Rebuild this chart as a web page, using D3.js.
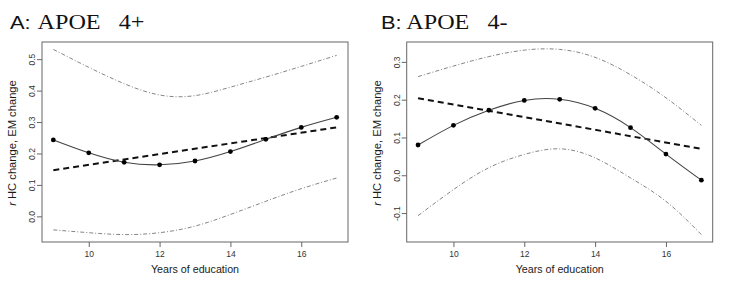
<!DOCTYPE html>
<html>
<head>
<meta charset="utf-8">
<script src="https://cdn.jsdelivr.net/npm/d3@7"></script>
<style>
  body { margin: 0; background: #fff; }
  svg { display: block; font-family: "Liberation Sans", Arial, sans-serif; }
</style>
</head>
<body>
<svg id="chart" width="735" height="296"></svg>
<script>
// Years of education (x values of the fitted points)
const years = [9, 10, 11, 12, 13, 14, 15, 16, 17];
const trendYears = [9, 17];

// Panel A: APOE e4+
const aFit = [0.243, 0.202, 0.172, 0.164, 0.176, 0.206, 0.245, 0.283, 0.315];
const aTrend = [0.147, 0.283];
const aUpper = [0.531, 0.474, 0.422, 0.386, 0.384, 0.411, 0.443, 0.477, 0.512];
const aLower = [-0.043, -0.052, -0.058, -0.052, -0.031, 0.006, 0.048, 0.088, 0.122];
const aYTicks = [0.0, 0.1, 0.2, 0.3, 0.4, 0.5];

// Panel B: APOE e4-
const bFit = [0.080, 0.132, 0.172, 0.198, 0.201, 0.177, 0.126, 0.056, -0.013];
const bTrend = [0.204, 0.070];
const bUpper = [0.261, 0.289, 0.314, 0.331, 0.333, 0.312, 0.266, 0.205, 0.132];
const bLower = [-0.107, -0.038, 0.020, 0.055, 0.070, 0.046, -0.007, -0.069, -0.157];
const bYTicks = [-0.1, 0.0, 0.1, 0.2, 0.3];

const xTicks = [10, 12, 14, 16];

const svg = d3.select('#chart');

// R style 4% padding around the data range
function padded(lo, hi) {
    const p = (hi - lo) * 0.04;
    return [lo - p, hi + p];
}

function drawPanel(p) {
    const top = 42, bottom = 242;
    const x = d3.scaleLinear().domain(padded(9, 17)).range([p.left, p.right]);
    const allY = p.fit.concat(p.upper, p.lower, p.trend);
    const y = d3.scaleLinear().domain(padded(d3.min(allY), d3.max(allY))).range([bottom, top]);

    const g = svg.append('g');

    // title: letter in sans, rest in serif
    const t = g.append('g')
        .attr('transform', `translate(${p.titleX},29) scale(1.15,1)`);
    t.append('text')
        .attr('x', 0).attr('y', 0)
        .attr('font-size', 19).attr('fill', '#111')
        .text(p.letter + ':');
    t.append('text')
        .attr('x', p.serifX).attr('y', 0)
        .style('font-family', '"Liberation Serif", "Times New Roman", serif')
        .attr('font-size', 21).attr('fill', '#111')
        .attr('xml:space', 'preserve')
        .text('APOE   ' + p.suffix);

    // box
    g.append('rect')
        .attr('x', p.left).attr('y', top)
        .attr('width', p.right - p.left).attr('height', bottom - top)
        .attr('fill', 'none').attr('stroke', '#666').attr('stroke-width', 1);

    // x axis
    const xAxis = g.append('g')
        .attr('transform', `translate(0,${bottom})`)
        .call(d3.axisBottom(x).tickValues(xTicks).tickSize(5).tickPadding(4));
    xAxis.select('.domain').remove();
    xAxis.attr('font-family', null);
    xAxis.selectAll('line').attr('stroke', '#666');
    xAxis.selectAll('text').attr('font-size', 8.5).attr('fill', '#333');

    // y axis, labels parallel to the axis
    const yAxis = g.append('g')
        .attr('transform', `translate(${p.left},0)`)
        .call(d3.axisLeft(y).tickValues(p.yTicks).tickSize(5).tickFormat(d => d.toFixed(1)));
    yAxis.select('.domain').remove();
    yAxis.attr('font-family', null);
    yAxis.selectAll('line').attr('stroke', '#666');
    yAxis.selectAll('text')
        .attr('font-size', 8.5).attr('fill', '#333')
        .attr('text-anchor', 'middle')
        .attr('x', 0).attr('dy', 0)
        .attr('transform', 'translate(-7,0) rotate(-90)');

    // axis titles
    g.append('text')
        .attr('x', (p.left + p.right) / 2).attr('y', 273)
        .attr('text-anchor', 'middle')
        .attr('font-size', 10.7).attr('fill', '#1a1a1a')
        .text('Years of education');

    const yl = g.append('text')
        .attr('transform', `translate(${p.left - 26},${(top + bottom) / 2 + 1}) rotate(-90)`)
        .attr('text-anchor', 'middle')
        .attr('font-size', 11.2).attr('fill', '#1a1a1a');
    yl.append('tspan').attr('font-style', 'italic').text('r');
    yl.append('tspan').text(' HC change, EM change');

    const smooth = d3.line()
        .x((d, i) => x(years[i]))
        .y(d => y(d))
        .curve(d3.curveNatural);

    // confidence bands
    [p.upper, p.lower].forEach(arr => {
        g.append('path')
            .datum(arr)
            .attr('d', smooth)
            .attr('fill', 'none')
            .attr('stroke', '#777')
            .attr('stroke-width', 0.9)
            .attr('stroke-dasharray', '4,2,1,2');
    });

    // linear trend
    g.append('line')
        .attr('x1', x(trendYears[0])).attr('y1', y(p.trend[0]))
        .attr('x2', x(trendYears[1])).attr('y2', y(p.trend[1]))
        .attr('stroke', '#111').attr('stroke-width', 2)
        .attr('stroke-dasharray', '6,4');

    // fitted curve and points
    g.append('path')
        .datum(p.fit)
        .attr('d', smooth)
        .attr('fill', 'none')
        .attr('stroke', '#444')
        .attr('stroke-width', 1.1);

    g.selectAll('.pt')
        .data(p.fit)
        .enter()
        .append('circle')
        .attr('class', 'pt')
        .attr('cx', (d, i) => x(years[i]))
        .attr('cy', d => y(d))
        .attr('r', 2.4)
        .attr('fill', '#000');
}

drawPanel({
    letter: 'A', suffix: '4+', titleX: 10, serifX: 24,
    left: 42, right: 348,
    fit: aFit, trend: aTrend, upper: aUpper, lower: aLower, yTicks: aYTicks
});

drawPanel({
    letter: 'B', suffix: '4-', titleX: 381, serifX: 22,
    left: 406.7, right: 712.7,
    fit: bFit, trend: bTrend, upper: bUpper, lower: bLower, yTicks: bYTicks
});
</script>
</body>
</html>
